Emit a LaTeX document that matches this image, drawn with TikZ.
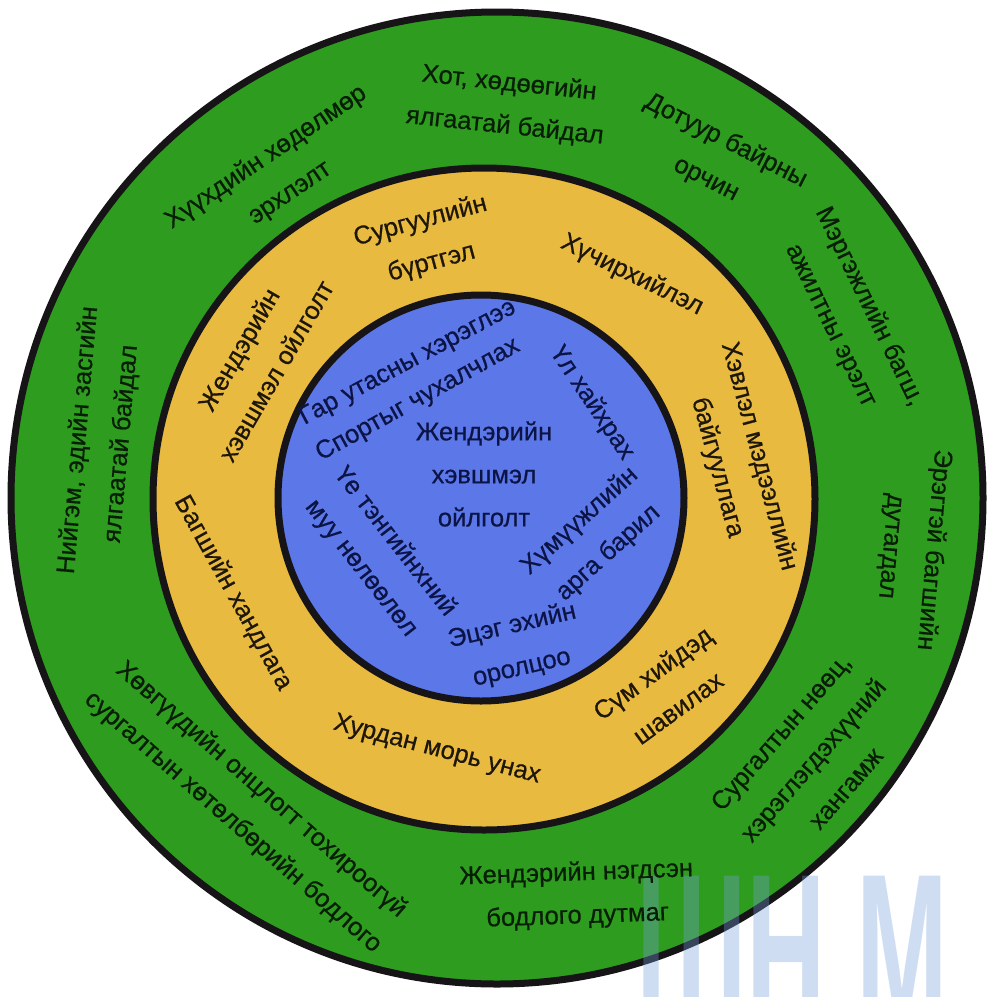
\documentclass[tikz,border=0pt]{standalone}
\usepackage{fontspec}
\setmainfont{Liberation Sans}
\newfontfamily\lblfont{Liberation Sans}[FakeBold=0.6]
\definecolor{ringgreen}{RGB}{46,156,30}
\definecolor{ringyellow}{RGB}{233,186,64}
\definecolor{ringblue}{RGB}{92,120,232}
\definecolor{ringline}{RGB}{22,20,22}
\definecolor{gtext}{RGB}{8,30,6}
\definecolor{ytext}{RGB}{30,22,8}
\definecolor{btext}{RGB}{12,20,70}
\definecolor{wmblue}{RGB}{120,160,220}
\tikzset{
  ring/.style={draw=ringline, line width=7pt},
  lbl/.style={font=\lblfont\fontsize{25.5}{43}\selectfont, align=center, inner sep=0pt},
  gtxt/.style={lbl, text=gtext},
  ytxt/.style={lbl, text=ytext},
  btxt/.style={lbl, text=btext},
  wm/.style={font=\fontsize{220}{220}\selectfont\bfseries, text=wmblue, opacity=0.35, inner sep=0pt, xscale=0.5}
}
\begin{document}
\begin{tikzpicture}[x=1pt,y=-1pt]
\useasboundingbox (0,0) rectangle (991,997);
\fill[white] (0,0) rectangle (991,997);
% rings
\draw[ring, fill=ringgreen] (497,498) circle[radius=486];
\draw[ring, fill=ringyellow] (484,499) circle[radius=331];
\draw[ring, fill=ringblue] (481,498) circle[radius=203];
% watermark
\node[wm, anchor=base west] (wmark) at (636,1027) {ШН М};
% outer ring texts
\node[gtxt, rotate=34] (g1) at (278,175) {Хүүхдийн хөдөлмөр\\эрхлэлт};
\node[gtxt, rotate=-6] (g2) at (507,105) {Хот, хөдөөгийн\\ялгаатай байдал};
\node[gtxt, rotate=-27] (g3) at (716,160) {Дотуур байрны\\орчин};
\node[gtxt, rotate=-64] (g4) at (850,316) {Мэргэжлийн багш,\\ажилтны эрэлт};
\node[gtxt, rotate=-95] (g5) at (912,548) {Эрэгтэй багшийн\\дутагдал};
\node[gtxt, rotate=49] (g6) at (813,760) {Сургалтын нөөц,\\хэрэглэгдэхүүний\\хангамж};
\node[gtxt, rotate=2] (g7) at (577,895) {Жендэрийн нэгдсэн\\бодлого дутмаг};
\node[gtxt, rotate=-41] (g8) at (247,806) {Хөвгүүдийн онцлогт тохироогүй\\сургалтын хөтөлбөрийн бодлого};
\node[gtxt, rotate=85] (g9) at (100,442) {Нийгэм, эдийн засгийн\\ялгаатай байдал};
% middle ring texts
\node[ytxt, rotate=15] (y1) at (426,242) {Сургуулийн\\бүртгэл};
\node[ytxt, rotate=-26] (y2) at (632,275) {Хүчирхийлэл};
\node[ytxt, rotate=-75] (y3) at (738,462) {Хэвлэл мэдээллийн\\байгууллага};
\node[ytxt, rotate=36] (y4) at (665,690) {Сүм хийдэд\\шавилах};
\node[ytxt, rotate=-14.6] (y5) at (437,750) {Хурдан морь унах};
\node[ytxt, rotate=-61] (y6) at (233,593) {Багшийн хандлага};
\node[ytxt, rotate=60] (y7) at (257,360) {Жендэрийн\\хэвшмэл ойлголт};
% inner circle texts
\node[btxt] (b0) at (484,474) {Жендэрийн\\хэвшмэл\\ойлголт};
\node[btxt, rotate=28] (b1) at (408,363) {Гар утасны хэрэглээ};
\node[btxt, rotate=29] (b2) at (418,400) {Спортыг чухалчлах};
\node[btxt, rotate=-56] (b3) at (592,403) {Үл хайхрах};
\node[btxt, rotate=42] (b4) at (594,537) {Хүмүүжлийн\\арга барил};
\node[btxt, rotate=13] (b5) at (517,647) {Эцэг эхийн\\оролцоо};
\node[btxt, rotate=-52] (b6) at (378,555) {Үе тэнгийнхний\\муу нөлөөлөл};
\end{tikzpicture}
\end{document}
